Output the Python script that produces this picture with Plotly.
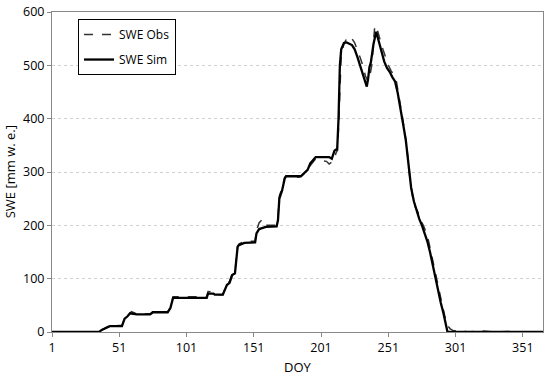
import plotly.graph_objects as go

sim_doy = [1, 36, 38, 42, 44, 53, 55, 57, 59, 64, 74, 76, 87, 89, 91, 116, 117, 121, 122, 128, 130, 131, 133, 135, 137, 138, 139, 140, 144, 152, 153, 155, 160, 168, 169, 170, 172, 174, 175, 186, 188, 191, 193, 195, 197, 207, 209, 211, 212, 213, 214, 215, 216, 218, 220, 224, 226, 228, 230, 232, 234, 235, 236, 237, 238, 239, 240, 242, 244, 246, 248, 250, 252, 254, 256, 258, 260, 262, 264, 266, 268, 270, 272, 274, 276, 278, 280, 282, 284, 286, 288, 290, 292, 294, 295, 366]
sim_swe = [0, 0, 4, 9, 11, 11, 25, 29, 35, 33, 33, 37, 37, 45, 64, 64, 72, 72, 70, 70, 84, 88, 92, 107, 110, 130, 160, 163, 167, 168, 185, 193, 197, 198, 210, 250, 265, 288, 292, 292, 297, 304, 316, 322, 328, 328, 325, 340, 342, 342, 400, 500, 530, 542, 543, 538, 530, 516, 500, 485, 465, 460, 475, 497, 505, 523, 540, 563, 545, 523, 507, 495, 488, 478, 470, 448, 415, 390, 360, 310, 270, 245, 228, 212, 200, 185, 170, 150, 125, 100, 78, 55, 35, 14, 0, 0]

obs_doy = [1, 7, 8, 9, 21, 22, 23, 36, 38, 42, 44, 53, 55, 58, 60, 62, 64, 74, 76, 87, 89, 91, 116, 117, 120, 122, 128, 130, 133, 135, 137, 139, 140, 144, 152, 153, 155, 157, 158, 168, 169, 170, 172, 174, 175, 180, 184, 186, 190, 193, 195, 197, 200, 205, 207, 209, 211, 212, 213, 214, 215, 216, 218, 220, 222, 224, 226, 228, 230, 232, 234, 236, 237, 238, 239, 240, 241, 243, 245, 247, 249, 251, 253, 255, 257, 259, 261, 263, 265, 267, 269, 271, 273, 275, 277, 279, 281, 283, 285, 287, 289, 291, 293, 295, 297, 299, 302, 305, 310, 320, 330, 340, 366]
obs_swe = [0, 0, 3, 0, 0, 5, 0, 0, 4, 10, 12, 12, 26, 32, 38, 36, 34, 34, 38, 38, 46, 66, 66, 76, 75, 70, 70, 86, 95, 110, 112, 160, 165, 170, 170, 190, 205, 210, 200, 200, 215, 255, 270, 290, 292, 292, 290, 292, 300, 312, 318, 325, 322, 320, 315, 318, 322, 335, 340, 380, 470, 520, 540, 550, 555, 550, 542, 530, 515, 500, 480, 470, 475, 490, 505, 545, 575, 565, 545, 530, 515, 500, 490, 482, 470, 440, 410, 380, 340, 290, 255, 235, 225, 210, 200, 188, 170, 145, 120, 98, 75, 52, 30, 12, 6, 3, 2, 3, 0, 2, 0, 1, 0]

x_ticks = [1, 51, 101, 151, 201, 251, 301, 351]
y_ticks = [0, 100, 200, 300, 400, 500, 600]

font = "Open Sans"

fig = go.Figure()
fig.add_trace(go.Scatter(x=obs_doy, y=obs_swe, mode="lines", name="SWE Obs",
                         legendgroup="obs",
                         line=dict(color="#333333", width=1.5, dash="dash")))
fig.add_trace(go.Scatter(x=sim_doy, y=sim_swe, mode="lines", name="SWE Sim",
                         legendgroup="sim",
                         line=dict(color="black", width=2.3)))

fig.update_layout(
    width=550, height=377,
    margin=dict(l=52, r=7, t=12, b=45, autoexpand=False),
    paper_bgcolor="white", plot_bgcolor="white",
    font=dict(family=font, size=12, color="black"),
    legend=dict(x=0.053, y=0.978, xanchor="left", yanchor="top",
                bordercolor="black", borderwidth=1, bgcolor="white",
                font=dict(size=12, color="black"), tracegroupgap=6,
                traceorder="grouped", itemwidth=30),
    showlegend=True,
    annotations=[
        dict(text="DOY", x=0.5, xref="paper", y=-0.11, yref="paper",
             yanchor="middle", xanchor="center", showarrow=False,
             font=dict(size=13, color="black")),
        dict(text="SWE [mm w. e.]", x=-0.085, xref="paper", y=0.5, yref="paper",
             xanchor="center", yanchor="middle", textangle=-90, showarrow=False,
             font=dict(size=13, color="black")),
    ],
)
fig.update_xaxes(range=[1, 366], tickvals=x_ticks, ticktext=[str(v) for v in x_ticks],
                 showline=True, linecolor="#888888", linewidth=1, mirror=True,
                 ticks="outside", ticklen=4, tickcolor="#888888",
                 showgrid=False, zeroline=False, automargin=False,
                 tickfont=dict(size=12.5, color="black"))
fig.update_yaxes(range=[0, 600], tickvals=y_ticks,
                 showline=True, linecolor="#888888", linewidth=1, mirror=True,
                 ticks="outside", ticklen=4, tickcolor="#888888",
                 showgrid=True, gridcolor="#d0d0d0", griddash="dot", gridwidth=1,
                 zeroline=False, automargin=False,
                 tickfont=dict(size=12.5, color="black"))

fig.write_html("out.html", config={"displayModeBar": False},
               post_script="document.body.style.margin='0';document.body.style.padding='0';")
